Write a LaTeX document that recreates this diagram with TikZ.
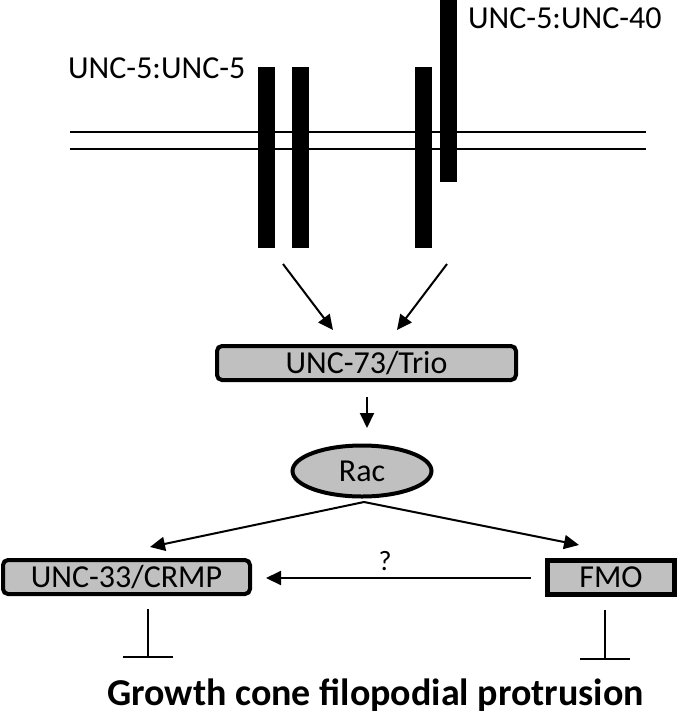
\documentclass[tikz,border=0pt]{standalone}
\usepackage{fontspec}
\setmainfont{Carlito}
\usetikzlibrary{arrows.meta,shapes.geometric}
\definecolor{boxgray}{RGB}{192,192,192}
\tikzset{
  bar/.style={fill=black, draw=none, minimum width=17pt, inner sep=0pt},
  memb/.style={line width=2pt},
  arr/.style={line width=2pt, -{Triangle[length=15pt,width=14pt]}},
  inhib/.style={line width=2pt, -{Bar[width=50pt,line width=2pt]}},
  rbox/.style={draw=black, fill=boxgray, line width=4pt, rounded corners=5pt, inner sep=0pt, font=\fontsize{32}{38}\selectfont},
  sbox/.style={draw=black, fill=boxgray, line width=5pt, inner sep=0pt, font=\fontsize{32}{38}\selectfont},
  lbl/.style={inner sep=0pt, font=\fontsize{32}{38}\selectfont},
}
\begin{document}
\begin{tikzpicture}[x=1pt,y=-1pt]
\useasboundingbox (0,0) rectangle (682,713);
% membrane
\coordinate (mL1) at (70,132); \coordinate (mR1) at (646,132);
\coordinate (mL2) at (70,149); \coordinate (mR2) at (646,149);
\draw[memb] (mL1) -- (mR1);
\draw[memb] (mL2) -- (mR2);
% receptors
\node[bar, minimum height=181pt] (b1) at (266.5,157.5) {};
\node[bar, minimum height=181pt] (b2) at (300,157.5) {};
\node[bar, minimum height=181pt] (b3) at (423.5,157.5) {};
\node[bar, minimum height=182pt] (b4) at (448.5,91) {};
% labels
\node[lbl, anchor=base west] (l55) at (68,78) {UNC-5:UNC-5};
\node[lbl, anchor=base west] (l540) at (468,28) {UNC-5:UNC-40};
% boxes
\node[rbox, minimum width=299pt, minimum height=34pt] (trio) at (366.5,363) {UNC-73/Trio};
\node[draw=black, fill=boxgray, line width=4pt, ellipse, inner sep=0pt, minimum width=139pt, minimum height=51pt, font=\fontsize{32}{38}\selectfont] (rac) at (362,471) {Rac};
\node[rbox, minimum width=247pt, minimum height=34pt] (unc33) at (126.5,577) {UNC-33/CRMP};
\node[sbox, minimum width=127pt, minimum height=34pt] (fmo) at (611,577.5) {FMO};
% arrows from receptors
\coordinate (s1) at (283,264); \coordinate (e1) at (333,330);
\coordinate (s2) at (447,264); \coordinate (e2) at (397,330);
\draw[arr] (s1) -- (e1);
\draw[arr] (s2) -- (e2);
% trio -> rac
\coordinate (t0) at (367,397); \coordinate (t1) at (367,428);
\draw[arr] (t0) -- (t1);
% rac -> unc33, fmo
\coordinate (apex) at (364,502);
\coordinate (eu) at (150,547);
\coordinate (ef) at (579,545);
\draw[arr] (apex) -- (eu);
\draw[arr] (apex) -- (ef);
% fmo -> unc33
\coordinate (hs) at (531,578); \coordinate (he) at (266,578);
\draw[arr] (hs) -- (he);
\node[inner sep=0pt, font=\fontsize{28}{34}\selectfont] (q) at (385,561) {?};
% inhibition
\coordinate (i1s) at (148,609); \coordinate (i1e) at (148,658);
\coordinate (i2s) at (605,610); \coordinate (i2e) at (605,660);
\draw[inhib] (i1s) -- (i1e);
\draw[inhib] (i2s) -- (i2e);
% outcome
\node[inner sep=0pt, anchor=base west, font=\fontsize{38}{44}\selectfont\bfseries] (gc) at (107,705) {Growth cone filopodial protrusion};
\end{tikzpicture}
\end{document}
